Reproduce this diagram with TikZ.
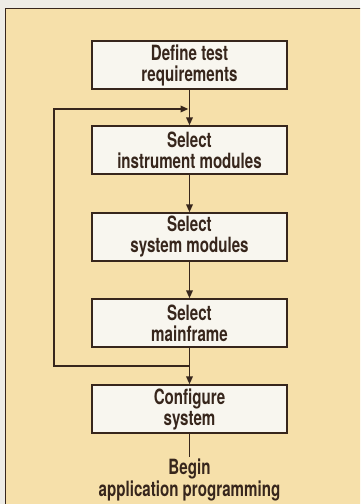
\documentclass[tikz,border=0pt]{standalone}
\usepackage{fontspec}
\setmainfont[FakeStretch=0.72]{TeX Gyre Heros}
\usetikzlibrary{arrows.meta,positioning}
\definecolor{page}{RGB}{238,236,230}
\definecolor{panel}{RGB}{246,224,170}
\definecolor{boxfill}{RGB}{248,246,239}
\definecolor{ink}{RGB}{55,38,28}
\begin{document}
\begin{tikzpicture}[x=1pt, y=-1pt,
    stage/.style={draw=ink, line width=1.3pt, fill=boxfill, minimum width=195pt, minimum height=48pt,
                  inner sep=0pt, align=center, text=ink, font=\bfseries\fontsize{21}{21}\selectfont},
    outcome/.style={inner sep=0pt, align=center, text=ink, font=\bfseries\fontsize{21}{22}\selectfont},
    flow/.style={draw=ink, line width=1.8pt, -{Triangle[length=8pt, width=6.5pt]}},
    plain/.style={draw=ink, line width=1.8pt}]
  % page, and the tinted panel whose right and bottom edges run off the picture
  \clip (0,0) rectangle (360,504);
  \fill[page] (0,0) rectangle (360,504);
  \filldraw[fill=panel, draw=ink, line width=1pt] (5,8) rectangle (380,530);

  % the five stages, one below the other
  \node[stage] (define)     at (189.5, 65)  {Define test\\requirements};
  \node[stage] (instrument) at (189.5, 150) {Select\\instrument modules};
  \node[stage] (system)     at (189.5, 237) {Select\\system modules};
  \node[stage] (mainframe)  at (189.5, 323) {Select\\mainframe};
  \node[stage] (configure)  at (189.5, 409) {Configure\\system};
  \node[outcome] (begin)    at (189.5, 480) {Begin\\application programming};

  % main flow
  \draw[flow] (define) -- (instrument);
  \draw[flow] (instrument) -- (system);
  \draw[flow] (system) -- (mainframe);
  \draw[flow] (mainframe) -- (configure);
  \draw[plain] (configure) -- (begin.north |- 0,457);

  % feedback loop, from above the configure stage back to the instrument stage
  \coordinate (loopfrom) at (mainframe.south |- 0,366);
  \coordinate (loopto)   at (define.south |- 0,109);
  \draw[flow] (loopfrom) -| (54,109) -- ([xshift=-1pt]loopto);
\end{tikzpicture}
\end{document}
